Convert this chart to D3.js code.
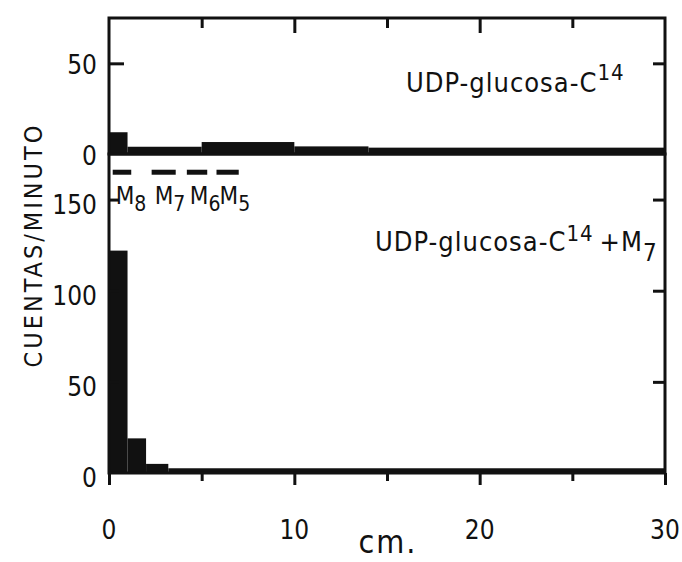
<!DOCTYPE html>
<html>
<head>
<meta charset="utf-8">
<script src="https://cdn.jsdelivr.net/npm/d3@7"></script>
<style>
  body { margin: 0; background: #fff; }
  svg text { font-family: 'DejaVu Sans Condensed', 'DejaVu Sans', sans-serif; fill: #111; }
</style>
</head>
<body>
<div id="chart"></div>
<script>
// bins: [from cm, to cm, cuentas/minuto]
const topBins = [[0, 1, 12], [1, 5, 4], [5, 10, 6.6], [10, 14, 4.2], [14, 30, 3.5]]
const bottomBins = [[0, 1, 122], [1, 2, 19], [2, 3.2, 5], [3.2, 30, 2.6]]

// marker positions (cm) shown as dashes above the lower panel
const markers = [
  { name: 'M', sub: '8', x0: 0.2, x1: 1.2 },
  { name: 'M', sub: '7', x0: 2.3, x1: 3.6 },
  { name: 'M', sub: '6', x0: 4.2, x1: 5.3 },
  { name: 'M', sub: '5', x0: 5.8, x1: 7.0 }
]

const xMajor = [0, 10, 20, 30]
const xMinor = [5, 15, 25]
const topTicks = [0, 50]
const bottomTicks = [0, 50, 100, 150]

const width = 682,
  height = 562

const x = d3.scaleLinear().domain([0, 30]).range([109, 665])
const yTop = d3.scaleLinear().domain([0, 75]).range([154, 18])
const yBot = d3.scaleLinear().domain([0, 175]).range([473, 154])

const svg = d3
  .select('#chart')
  .append('svg')
  .attr('width', width)
  .attr('height', height)

// histograms
svg
  .selectAll('.bar-top')
  .data(topBins)
  .enter()
  .append('rect')
  .attr('x', d => x(d[0]))
  .attr('width', d => x(d[1]) - x(d[0]))
  .attr('y', d => yTop(d[2]))
  .attr('height', d => yTop(0) - yTop(d[2]))
  .attr('fill', '#111')

svg
  .selectAll('.bar-bot')
  .data(bottomBins)
  .enter()
  .append('rect')
  .attr('x', d => x(d[0]))
  .attr('width', d => x(d[1]) - x(d[0]))
  .attr('y', d => yBot(d[2]))
  .attr('height', d => yBot(0) - yBot(d[2]))
  .attr('fill', '#111')

// panel frames
;[[yTop, 75], [yBot, 175]].forEach(([y, max]) => {
  svg
    .append('rect')
    .attr('x', x(0))
    .attr('y', y(max))
    .attr('width', x(30) - x(0))
    .attr('height', y(0) - y(max))
    .attr('fill', 'none')
    .attr('stroke', '#111')
    .attr('stroke-width', 3)
})

// ticks
function ticks(axis, transform) {
  const g = svg.append('g').attr('transform', transform).call(axis)
  g.select('.domain').remove()
  g.selectAll('text').remove()
  g.selectAll('line').attr('stroke', '#111').attr('stroke-width', 3)
}

ticks(d3.axisBottom(x).tickValues(xMajor).tickSize(12), 'translate(0,' + yBot(0) + ')')
ticks(d3.axisBottom(x).tickValues(xMinor).tickSize(8), 'translate(0,' + yBot(0) + ')')
ticks(d3.axisTop(x).tickValues([10, 20]).tickSize(-15), 'translate(0,' + yTop(75) + ')')
ticks(d3.axisTop(x).tickValues([5, 15, 25]).tickSize(-10), 'translate(0,' + yTop(75) + ')')
ticks(d3.axisLeft(yTop).tickValues([50]).tickSize(-15), 'translate(' + x(0) + ',0)')
ticks(d3.axisRight(yTop).tickValues([50]).tickSize(-12), 'translate(' + x(30) + ',0)')
ticks(d3.axisLeft(yBot).tickValues([50, 100, 150]).tickSize(-10), 'translate(' + x(0) + ',0)')
ticks(d3.axisRight(yBot).tickValues([50, 100, 150]).tickSize(-12), 'translate(' + x(30) + ',0)')

// tick labels
svg
  .selectAll('.xlab')
  .data(xMajor)
  .enter()
  .append('text')
  .attr('x', d => x(d))
  .attr('y', 539)
  .attr('text-anchor', 'middle')
  .attr('font-size', 26)
  .text(d => d)

svg
  .selectAll('.ylab-top')
  .data(topTicks)
  .enter()
  .append('text')
  .attr('x', 97)
  .attr('y', d => yTop(d) + 11)
  .attr('text-anchor', 'end')
  .attr('font-size', 26)
  .text(d => d)

svg
  .selectAll('.ylab-bot')
  .data(bottomTicks)
  .enter()
  .append('text')
  .attr('x', 97)
  .attr('y', d => yBot(d) + 14)
  .attr('text-anchor', 'end')
  .attr('font-size', 26)
  .text(d => d)

// axis titles
svg
  .append('text')
  .attr('x', 388)
  .attr('y', 553)
  .attr('text-anchor', 'middle')
  .attr('font-size', 32)
  .attr('letter-spacing', 2)
  .text('cm.')

svg
  .append('text')
  .attr('transform', 'translate(42,245) rotate(-90)')
  .attr('text-anchor', 'middle')
  .attr('font-size', 25)
  .attr('letter-spacing', 3)
  .text('CUENTAS/MINUTO')

// panel labels
const lab1 = svg
  .append('text')
  .attr('x', 406)
  .attr('y', 92)
  .attr('font-size', 27)
  .attr('letter-spacing', 1)
lab1.append('tspan').text('UDP-glucosa-C')
lab1.append('tspan').attr('dy', -12).attr('font-size', 22).text('14')

const lab2 = svg
  .append('text')
  .attr('x', 375)
  .attr('y', 251)
  .attr('font-size', 27)
  .attr('letter-spacing', 1)
lab2.append('tspan').text('UDP-glucosa-C')
lab2.append('tspan').attr('dy', -10).attr('font-size', 22).text('14')
lab2.append('tspan').attr('dy', 10).attr('dx', 6).text('+M')
lab2.append('tspan').attr('dy', 10).attr('font-size', 24).text('7')

// marker dashes
svg
  .selectAll('.marker')
  .data(markers)
  .enter()
  .append('line')
  .attr('x1', d => x(d.x0))
  .attr('x2', d => x(d.x1))
  .attr('y1', yBot(165))
  .attr('y2', yBot(165))
  .attr('stroke', '#111')
  .attr('stroke-width', 5)

markers.forEach(m => {
  const t = svg
    .append('text')
    .attr('x', x(m.x0) + 3)
    .attr('y', 204)
    .attr('font-size', 24)
  t.append('tspan').text(m.name)
  t.append('tspan').attr('dy', 7).attr('font-size', 21).text(m.sub)
})
</script>
</body>
</html>
